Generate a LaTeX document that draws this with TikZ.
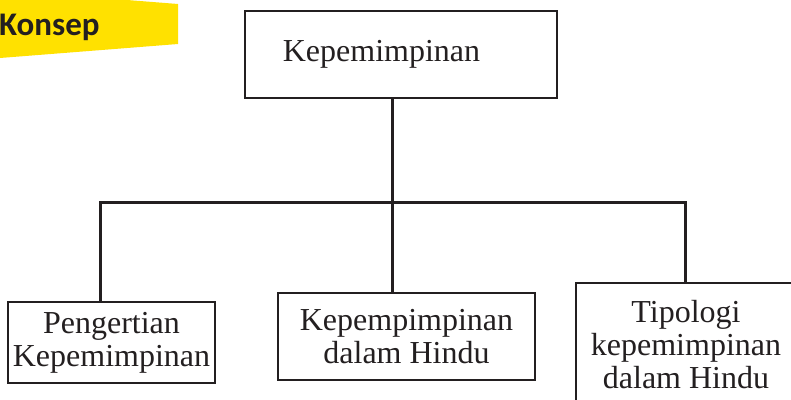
\documentclass[tikz,border=0pt]{standalone}
\usepackage{fontspec}
\setmainfont{Liberation Serif}
\newfontfamily\konsepfont{Carlito}
\definecolor{ink}{HTML}{231F20}
\definecolor{bannery}{HTML}{FFE100}
\tikzset{
  box/.style={draw=ink, line width=2.5pt, inner sep=0pt, align=center, text=ink,
    font=\fontsize{32}{33}\selectfont},
  conn/.style={draw=ink, line width=3pt},
}
\begin{document}
\begin{tikzpicture}[x=1pt,y=-1pt]
\useasboundingbox (0,0) rectangle (791,399);
\clip (0,0) rectangle (791,399);
\fill[bannery] (0,-10) -- (178,4) -- (178,44) -- (0,58) -- cycle;
\node[anchor=base west, inner sep=0pt, text=ink, font=\konsepfont\bfseries\fontsize{33}{35}\selectfont] (konsep) at (-1,35) {Konsep};
\node[box, minimum width=312pt, minimum height=87pt] (top) at (401,54.5) {Kepemimpinan\hspace{39pt}};
\node[box, minimum width=207pt, minimum height=81pt] (left) at (111.5,342.5) {Pengertian\\Kepemimpinan};
\node[box, minimum width=257pt, minimum height=87pt] (mid) at (406.5,336.5) {Kepempimpinan\\dalam Hindu};
\node[box, minimum width=220pt, minimum height=124pt] (right) at (686,345) {Tipologi\\kepemimpinan\\dalam Hindu};
\coordinate (stem) at (392,202);
\coordinate (busL) at (100,202);
\coordinate (busR) at (685,202);
\draw[conn] (top.south -| stem) -- (stem);
\draw[conn] (stem) -- (stem |- mid.north);
\draw[conn] (left.north -| busL) -- (busL) -- (busR) -- (right.north -| busR);
\end{tikzpicture}
\end{document}
